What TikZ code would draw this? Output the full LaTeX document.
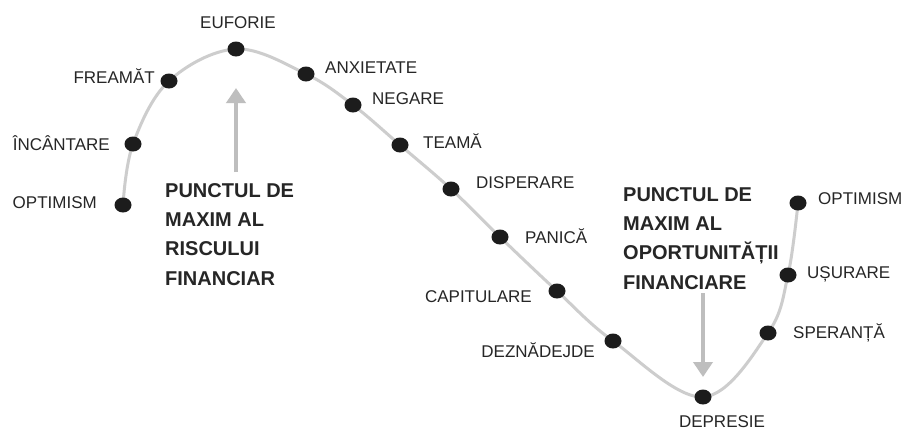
\documentclass[tikz,border=0pt]{standalone}
\usepackage{fontspec}
\setmainfont{Liberation Sans}
\usetikzlibrary{arrows.meta,shapes.geometric}
\definecolor{curvegray}{RGB}{205,205,205}
\definecolor{arrowgray}{RGB}{190,190,190}
\definecolor{dotblack}{RGB}{28,28,28}
\begin{document}
\begin{tikzpicture}[x=1pt,y=-1pt,
  dotnode/.style={ellipse, fill=dotblack, minimum width=17pt, minimum height=15pt, inner sep=0pt},
  lbl/.style={inner sep=0pt, font=\fontsize{17}{20}\selectfont, text=black!85},
  boldlbl/.style={inner sep=0pt, align=left, anchor=north west, font=\fontsize{20}{29.3}\selectfont\bfseries, text=black!85},
  bigarrow/.style={draw=arrowgray, line width=4pt, -{Triangle[width=19pt,length=15pt]}}
]
\useasboundingbox[fill=white] (0,0) rectangle (907,429);
% dot positions
\coordinate (p1) at (123,205);
\coordinate (p2) at (133,144);
\coordinate (p3) at (169,81);
\coordinate (p4) at (236,49);
\coordinate (p5) at (306,74);
\coordinate (p6) at (353,105);
\coordinate (p7) at (400,145);
\coordinate (p8) at (451,189);
\coordinate (p9) at (500,237);
\coordinate (p10) at (557,291);
\coordinate (p11) at (613,341);
\coordinate (p12) at (703,397);
\coordinate (p13) at (768,333);
\coordinate (p14) at (788,275);
\coordinate (p15) at (798,203);
% curve
\draw[curvegray, line width=3pt] plot[smooth, tension=0.6] coordinates {(p1) (p2) (p3) (p4) (p5) (p6) (p7) (p8) (p9) (p10) (p11) (p12) (p13) (p14) (p15)};
% dots
\foreach \i in {1,...,15} { \node[dotnode] (d\i) at (p\i) {}; }
% labels
\node[lbl, anchor=base east] (l1) at (97,208) {OPTIMISM};
\node[lbl, anchor=base east] (l2) at (110,150) {ÎNCÂNTARE};
\node[lbl, anchor=base east] (l3) at (155,83) {FREAMĂT};
\node[lbl, anchor=base] (l4) at (238,28) {EUFORIE};
\node[lbl, anchor=base west] (l5) at (325,73) {ANXIETATE};
\node[lbl, anchor=base west] (l6) at (372,104) {NEGARE};
\node[lbl, anchor=base west] (l7) at (423,148) {TEAMĂ};
\node[lbl, anchor=base west] (l8) at (476,188) {DISPERARE};
\node[lbl, anchor=base west] (l9) at (525,243) {PANICĂ};
\node[lbl, anchor=base east] (l10) at (532,302) {CAPITULARE};
\node[lbl, anchor=base east] (l11) at (595,357) {DEZNĂDEJDE};
\node[lbl, anchor=base] (l12) at (722,427) {DEPRESIE};
\node[lbl, anchor=base west] (l13) at (793,338) {SPERANȚĂ};
\node[lbl, anchor=base west] (l14) at (807,278) {UȘURARE};
\node[lbl, anchor=base west] (l15) at (818,204) {OPTIMISM};
% bold texts
\node[boldlbl] (risk) at (165,183) {PUNCTUL DE\\MAXIM AL\\RISCULUI\\FINANCIAR};
\node[boldlbl] (opp) at (623,187) {PUNCTUL DE\\MAXIM AL\\OPORTUNITĂȚII\\FINANCIARE};
% arrows
\coordinate (a1s) at (236,172);
\coordinate (a1e) at (236,88);
\coordinate (a2s) at (703,293);
\coordinate (a2e) at (703,377);
\draw[bigarrow] (a1s) -- (a1e);
\draw[bigarrow] (a2s) -- (a2e);
\end{tikzpicture}
\end{document}
